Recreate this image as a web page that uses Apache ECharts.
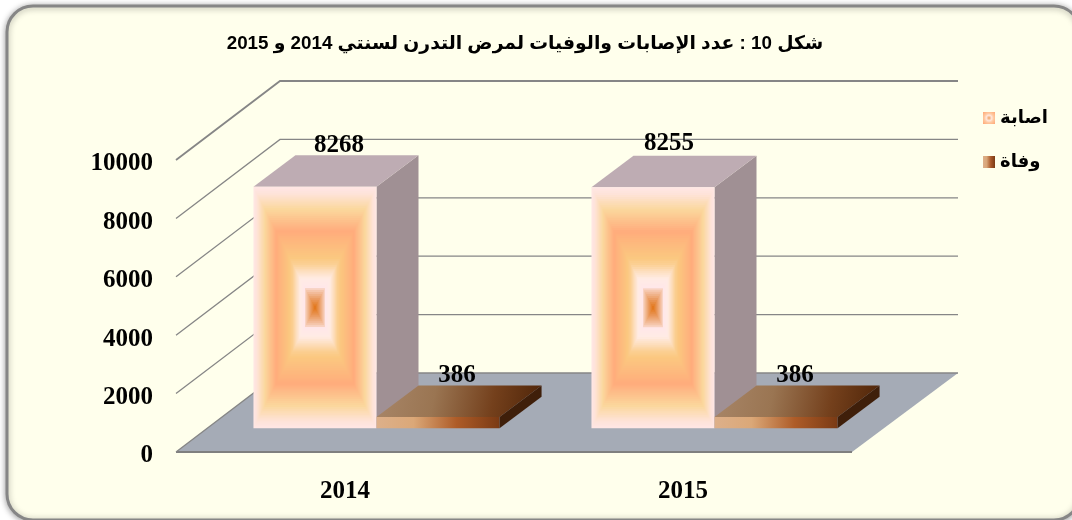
<!DOCTYPE html>
<html>
<head>
<meta charset="utf-8">
<script src="https://cdn.jsdelivr.net/npm/echarts@6/dist/echarts.min.js"></script>
<style>html,body{margin:0;padding:0;background:#fff}#main{width:1072px;height:520px}</style>
</head>
<body>
<div id="main" dir="rtl"></div>
<script>
var titleText = 'شكل 10 : عدد الإصابات والوفيات لمرض التدرن لسنتي 2014 و 2015';
var categories = ['2014', '2015'];
var injuriesName = 'اصابة';
var deathsName = 'وفاة';
var injuries = [8268, 8255];
var deaths = [386, 386];
var yTicks = [0, 2000, 4000, 6000, 8000, 10000];

var DX = 105, DY = 79;
var SERIF = '"Liberation Serif","Times New Roman",serif';
var SANS = '"Liberation Sans","DejaVu Sans",sans-serif';
var stops = [[0,'#FFE6E4'],[0.05,'#FEE3D9'],[0.18,'#FBD79C'],[0.36,'#FFAC7C'],[0.58,'#FBC880'],[0.63,'#FBCF92'],[0.69,'#FDDEBE'],[0.75,'#FFECE4'],[0.83,'#FFE6EA'],[0.84,'#F7CFBC'],[0.92,'#EA9C62'],[1,'#E1700E']];

function mix(t){
  for(var i=1;i<stops.length;i++){
    if(t<=stops[i][0]){
      var a=stops[i-1],b=stops[i],k=(t-a[0])/(b[0]-a[0]);
      return echarts.color.lerp(k,[a[1],b[1]]);
    }
  }
  return stops[stops.length-1][1];
}
function poly(pts,fill){return {type:'polygon',silent:true,shape:{points:pts},style:{fill:fill}};}
function lin(x,y,x2,y2,c){return {type:'linear',x:x,y:y,x2:x2,y2:y2,colorStops:c.map(function(s){return {offset:s[0],color:s[1]};})};}

function barGeom(params,api,slot){
  var base=api.coord([api.value(0),0]);
  var top=api.coord([api.value(0),api.value(1)]);
  var w=api.size([1,0])[0]*0.364;
  var ox=DX*0.3, oy=DY*0.3, dx=DX*0.4, dy=DY*0.4;
  var x0=base[0]+ox+(slot-2)*w, x1=x0+w, yb=base[1]-oy, yt=top[1]-oy;
  return {x0:x0,x1:x1,yb:yb,yt:yt,dx:dx,dy:dy,w:w};
}
function label(g,text,nx,ny){
  return {type:'text',silent:true,z2:50,style:{text:String(text),x:(g.x0+g.x1)/2+g.dx/2+1+nx,y:g.yt-g.dy-10+ny,align:'center',verticalAlign:'middle',font:'bold 25px '+SERIF,fill:'#000'}};
}

var option = {
  animation:false,
  backgroundColor:'#fff',
  graphic:[{type:'rect',z:-10,silent:true,shape:{x:7,y:6,width:1073,height:514,r:26},
    style:{fill:'#FFFFEC',stroke:'#868686',lineWidth:3,shadowBlur:6,shadowColor:'rgba(0,0,0,0.35)',shadowOffsetX:0,shadowOffsetY:1}}],
  title:{text:titleText,left:520,top:29,textAlign:'center',textStyle:{fontFamily:SANS,fontWeight:'bold',fontSize:18.8,color:'#000'}},
  grid:{left:176,top:160,width:676,height:292},
  legend:{orient:'vertical',left:983,top:109,padding:0,icon:'rect',itemWidth:12,itemHeight:12,itemGap:26,selectedMode:false,
    data:[injuriesName,deathsName],
    textStyle:{fontFamily:SANS,fontWeight:'bold',fontSize:18,color:'#000'}},
  xAxis:{type:'category',data:categories,axisLine:{show:false},axisTick:{show:false},
    axisLabel:{margin:27,color:'#000',fontFamily:SERIF,fontWeight:'bold',fontSize:25}},
  yAxis:{type:'value',min:0,max:10000,interval:2000,axisLine:{show:false},axisTick:{show:false},splitLine:{show:false},
    axisLabel:{margin:23,color:'#000',fontFamily:SERIF,fontWeight:'bold',fontSize:25,verticalAlign:'top',lineHeight:8,formatter:function(v){return String(v);}}},
  series:[
    {type:'custom',name:'walls',coordinateSystem:'cartesian2d',z:1,silent:true,data:yTicks.map(function(v){return [0,v];}),
     renderItem:function(params,api){
       var r=params.coordSys, y=api.coord([0,api.value(1)])[1], L=r.x, R=r.x+r.width;
       var kids=[];
       if(api.value(1)===0){
         kids.push(poly([[L,y],[R,y],[R+DX+1,y-DY],[L+DX-1,y-DY]],'#A5ABB6'));
         kids.push({type:'line',silent:true,shape:{x1:L,y1:y,x2:R,y2:y},style:{stroke:'#7F7F7F',lineWidth:2}});
       }
       kids.push({type:'polyline',silent:true,shape:{points:[[L,y],[L+DX-1,y-DY],[R+DX+1,y-DY]]},style:{fill:null,stroke:'#868686',lineWidth:api.value(1)===10000?1.8:1.3}});
       return {type:'group',children:kids};
     }},
    {type:'custom',name:injuriesName,coordinateSystem:'cartesian2d',z:2,
     itemStyle:{color:{type:'radial',x:0.5,y:0.5,r:0.65,colorStops:[{offset:0,color:'#F0A060'},{offset:0.35,color:'#FFE6DC'},{offset:0.6,color:'#FFC9A0'},{offset:1,color:'#FFAC7C'}]}},
     data:injuries.map(function(v,i){return [i,v];}),
     renderItem:function(params,api){
       var g=barGeom(params,api,1), h=g.yb-g.yt;
       var kids=[
         poly([[g.x1,g.yt],[g.x1+g.dx,g.yt-g.dy],[g.x1+g.dx,g.yb-g.dy],[g.x1,g.yb]],'#A09094'),
         poly([[g.x0,g.yt],[g.x1,g.yt],[g.x1+g.dx,g.yt-g.dy],[g.x0+g.dx,g.yt-g.dy]],'#BEACB3')
       ];
       var n=Math.round(g.w/2);
       for(var i=0;i<n;i++){
         var t=i/n;
         kids.push({type:'rect',silent:true,shape:{x:g.x0+t*g.w/2,y:g.yt+t*h/2,width:g.w*(1-t),height:h*(1-t)},style:{fill:mix(t)}});
       }
       var first=params.dataIndex===0;
       kids.push(label(g,api.value(1),first?2:-6,first?0:-2));
       return {type:'group',children:kids};
     }},
    {type:'custom',name:deathsName,coordinateSystem:'cartesian2d',z:3,
     itemStyle:{color:lin(0,0,1,0,[[0,'#DDB08A'],[0.3,'#D9A678'],[0.65,'#A9582A'],[1,'#7A3A14']])},
     data:deaths.map(function(v,i){return [i,v];}),
     renderItem:function(params,api){
       var g=barGeom(params,api,2);
       var kids=[
         poly([[g.x0,g.yt],[g.x1,g.yt],[g.x1,g.yb],[g.x0,g.yb]],lin(0,0,1,0,[[0,'#DDB08A'],[0.3,'#DBA878'],[0.65,'#AE5C28'],[1,'#7A3A14']])),
         poly([[g.x0,g.yt],[g.x1,g.yt],[g.x1+g.dx,g.yt-g.dy],[g.x0+g.dx,g.yt-g.dy]],lin(0,0,1,1,[[0,'#A88668'],[0.35,'#9A7552'],[0.7,'#74401C'],[1,'#4E2408']])),
         poly([[g.x1,g.yt],[g.x1+g.dx,g.yt-g.dy],[g.x1+g.dx,g.yb-g.dy],[g.x1,g.yb]],'#3F1F0A'),
         label(g,api.value(1),-3,0)
       ];
       return {type:'group',children:kids};
     }}
  ]
};
var chart=echarts.init(document.getElementById('main'),null,{renderer:'canvas'});
chart.setOption(option);
</script>
</body>
</html>
